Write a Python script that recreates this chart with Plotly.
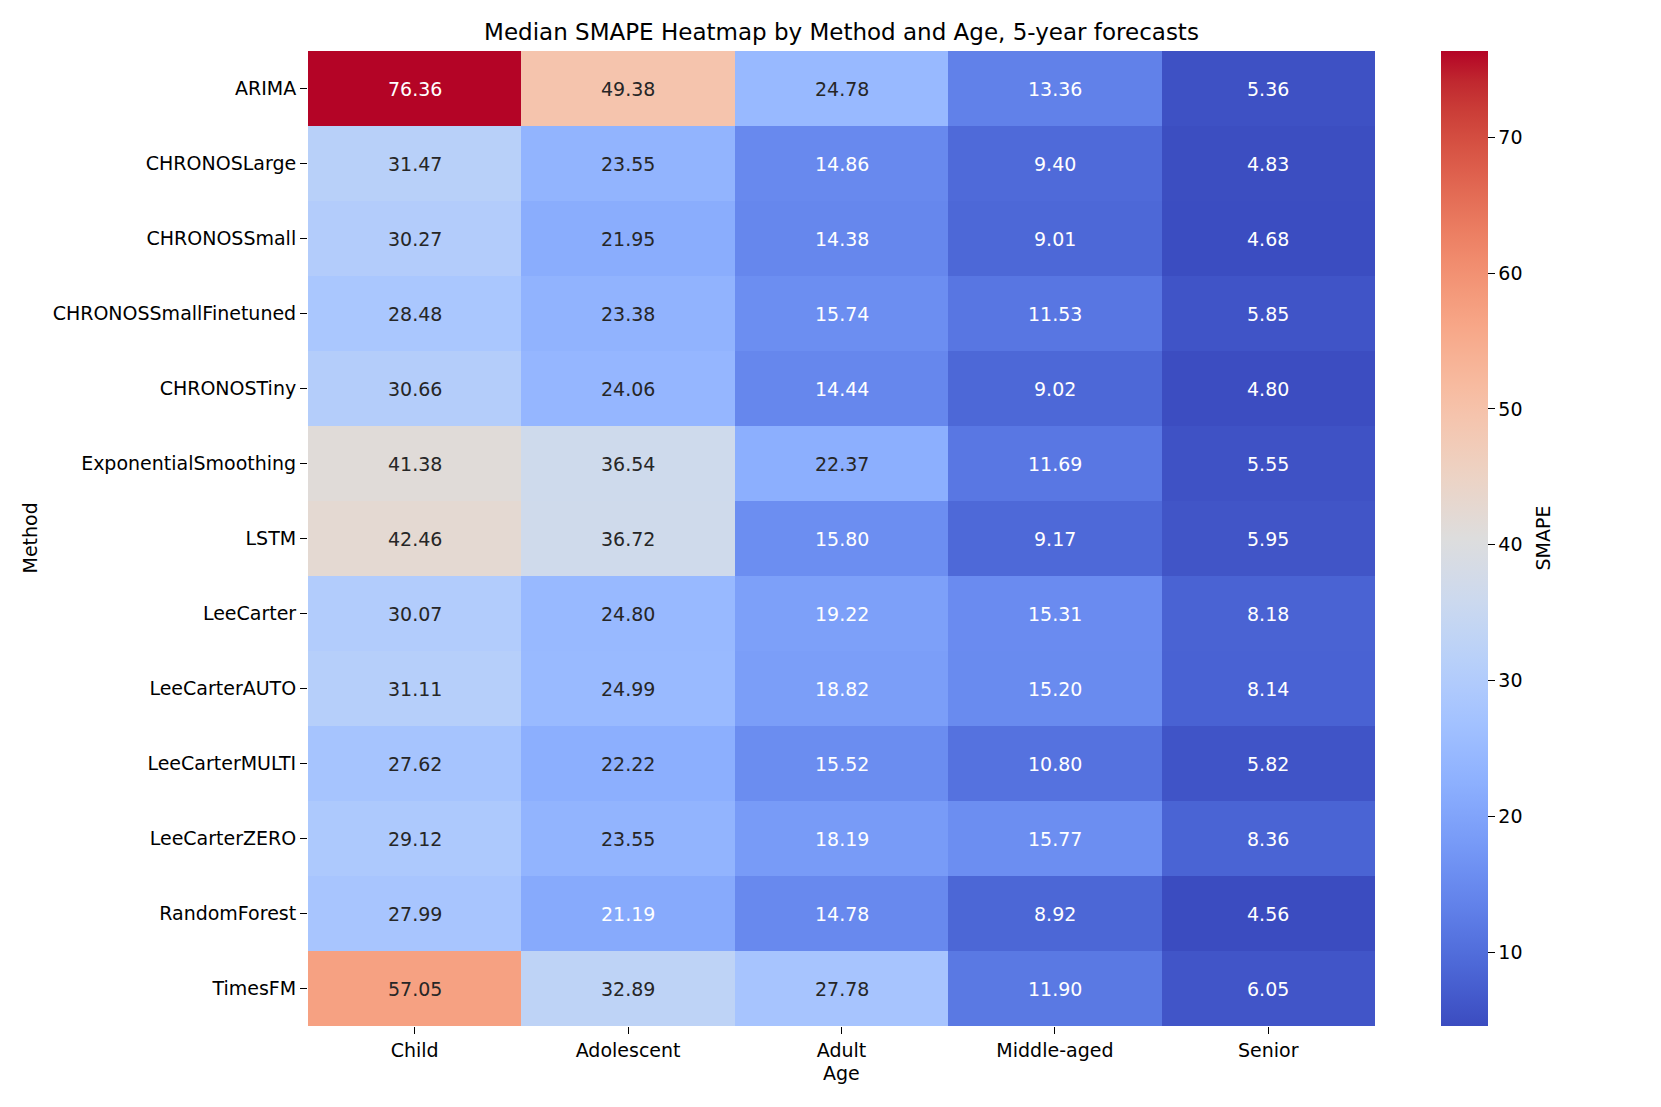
import plotly.graph_objects as go

methods = ["ARIMA", "CHRONOSLarge", "CHRONOSSmall", "CHRONOSSmallFinetuned", "CHRONOSTiny",
           "ExponentialSmoothing", "LSTM", "LeeCarter", "LeeCarterAUTO", "LeeCarterMULTI",
           "LeeCarterZERO", "RandomForest", "TimesFM"]
ages = ["Child", "Adolescent", "Adult", "Middle-aged", "Senior"]

child = [76.36, 31.47, 30.27, 28.48, 30.66, 41.38, 42.46, 30.07, 31.11, 27.62, 29.12, 27.99, 57.05]
adolescent = [49.38, 23.55, 21.95, 23.38, 24.06, 36.54, 36.72, 24.80, 24.99, 22.22, 23.55, 21.19, 32.89]
adult = [24.78, 14.86, 14.38, 15.74, 14.44, 22.37, 15.80, 19.22, 18.82, 15.52, 18.19, 14.78, 27.78]
middle_aged = [13.36, 9.40, 9.01, 11.53, 9.02, 11.69, 9.17, 15.31, 15.20, 10.80, 15.77, 8.92, 11.90]
senior = [5.36, 4.83, 4.68, 5.85, 4.80, 5.55, 5.95, 8.18, 8.14, 5.82, 8.36, 4.56, 6.05]

colorbar_ticks = [10, 20, 30, 40, 50, 60, 70]

# coolwarm (Moreland) colormap samples
cw = [(59, 76, 192), (68, 90, 204), (77, 104, 215), (87, 117, 225), (98, 130, 234), (108, 142, 241),
      (119, 154, 247), (130, 165, 251), (141, 176, 254), (152, 185, 255), (163, 194, 255),
      (174, 201, 253), (184, 208, 249), (194, 213, 244), (204, 217, 238), (213, 219, 230),
      (221, 221, 221), (229, 216, 209), (236, 211, 197), (241, 204, 185), (245, 196, 173),
      (247, 187, 160), (247, 177, 148), (247, 166, 135), (244, 154, 123), (241, 141, 111),
      (236, 127, 99), (229, 112, 88), (222, 96, 77), (213, 80, 66), (203, 62, 56),
      (192, 40, 47), (180, 4, 38)]
n = len(cw) - 1
colorscale = [[i / n, "rgb(%d,%d,%d)" % c] for i, c in enumerate(cw)]

cols = [child, adolescent, adult, middle_aged, senior]
z = [[cols[j][i] for j in range(len(ages))] for i in range(len(methods))]
allv = [v for row in z for v in row]
zmin, zmax = min(allv), max(allv)


def color_at(v):
    t = (v - zmin) / (zmax - zmin)
    t = max(0.0, min(1.0, t))
    p = t * n
    i = min(int(p), n - 1)
    f = p - i
    return tuple(cw[i][k] + (cw[i + 1][k] - cw[i][k]) * f for k in range(3))


def lum(rgb):
    out = []
    for c in rgb:
        c = c / 255.0
        out.append(c / 12.92 if c <= 0.03928 else ((c + 0.055) / 1.055) ** 2.4)
    return 0.2126 * out[0] + 0.7152 * out[1] + 0.0722 * out[2]


FONT = "DejaVu Sans"
W, H = 1661, 1107
L, R, T, B = 300, 1367, 43, 1018

fig = go.Figure()
fig.add_trace(go.Heatmap(
    z=z, x=ages, y=methods, colorscale=colorscale, zmin=zmin, zmax=zmax,
    xgap=0, ygap=0,
    colorbar=dict(
        x=(1423 - L) / (R - L), xanchor="left", xref="paper",
        y=0.5, yanchor="middle", len=1, lenmode="fraction", ypad=0,
        thickness=47, thicknessmode="pixels", outlinewidth=0,
        ticks="outside", ticklen=7, tickwidth=1.3, tickcolor="black",
        tickvals=colorbar_ticks, tickfont=dict(family=FONT, size=19, color="black"),
    ),
    hovertemplate="%{y}, %{x}: %{z:.2f}<extra></extra>",
))

annotations = []
for i, m in enumerate(methods):
    for j, a in enumerate(ages):
        v = z[i][j]
        c = color_at(v)
        tc = "#262626" if lum(c) > 0.408 else "white"
        annotations.append(dict(x=a, y=m, xref="x", yref="y", text="%.2f" % v, showarrow=False,
                                font=dict(family=FONT, size=19, color=tc)))

annotations.append(dict(text="Method", xref="paper", yref="paper", x=-(L - 21) / (R - L), y=0.5,
                        xanchor="center", yanchor="middle", textangle=-90, showarrow=False,
                        font=dict(family=FONT, size=19, color="black")))
annotations.append(dict(text="Age", xref="paper", yref="paper", x=0.5, y=-(1065 - B) / (B - T),
                        xanchor="center", yanchor="middle", showarrow=False,
                        font=dict(family=FONT, size=19, color="black")))
annotations.append(dict(text="SMAPE", xref="paper", yref="paper", x=(1534 - L) / (R - L), y=0.5,
                        xanchor="center", yanchor="middle", textangle=-90, showarrow=False,
                        font=dict(family=FONT, size=19, color="black")))

fig.update_layout(
    width=W, height=H,
    margin=dict(l=L, r=W - R, t=T, b=H - B, pad=0),
    paper_bgcolor="white", plot_bgcolor="white",
    title=dict(text="Median SMAPE Heatmap by Method and Age, 5-year forecasts",
               x=(L + R) / 2 / W, xanchor="center", xref="container",
               y=1 - 24 / H, yanchor="middle", yref="container",
               font=dict(family=FONT, size=23, color="black")),
    annotations=annotations,
    font=dict(family=FONT, color="black"),
)
fig.update_xaxes(showgrid=False, zeroline=False, ticks="outside", ticklen=7, tickwidth=1.3,
                 tickcolor="black", tickfont=dict(family=FONT, size=19, color="black"),
                 showline=False)
fig.update_yaxes(showgrid=False, zeroline=False, ticks="outside", ticklen=7, tickwidth=1.3,
                 tickcolor="black", tickfont=dict(family=FONT, size=19, color="black"),
                 autorange="reversed", showline=False)

fig.write_html("out.html")
